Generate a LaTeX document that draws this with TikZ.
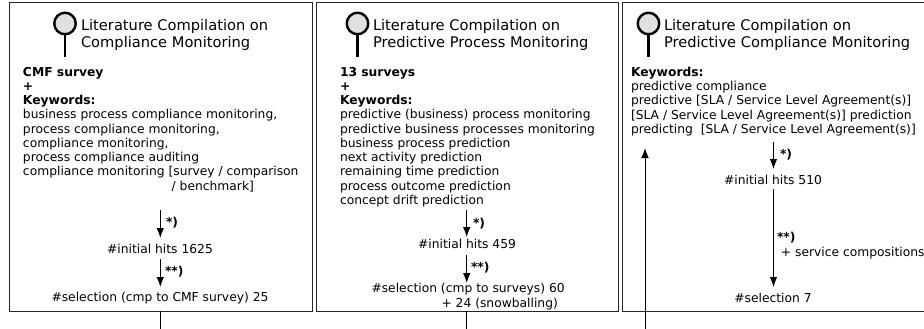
\documentclass[tikz,border=0pt]{standalone}
\usepackage{fontspec}
\setmainfont{DejaVu Sans}
\usetikzlibrary{arrows.meta}
\tikzset{
  x=1pt,y=-1pt,
  panel/.style={draw=black!85,line width=1pt},
  txt/.style={inner sep=0pt,outer sep=0pt,align=left,font=\fontsize{12.3}{14.25}\selectfont},
  head/.style={inner sep=0pt,outer sep=0pt,align=left,font=\fontsize{14.65}{17}\selectfont},
  lens/.style={draw=black,line width=2.4pt,fill=black!12},
  grip/.style={draw=black,line width=2.4pt},
  flow/.style={draw=black,line width=1pt,-{Latex[length=10pt,width=7.5pt]}},
  link/.style={draw=black,line width=1pt},
}
\begin{document}
\begin{tikzpicture}
\useasboundingbox (0,0) rectangle (924,329);
% panels
\node[panel,minimum width=303pt,minimum height=308pt,inner sep=0pt,anchor=north west] (p1) at (9,2.5) {};
\node[panel,minimum width=302.5pt,minimum height=308pt,inner sep=0pt,anchor=north west] (p2) at (315.5,2.5) {};
\node[panel,minimum width=301.5pt,minimum height=308pt,inner sep=0pt,anchor=north west] (p3) at (622,2.5) {};
% magnifiers
\foreach \n/\x in {a/65,b/357.5,c/648.5}{
  \draw[grip] (\x,30) -- (\x,57);
  \node[lens,circle,minimum size=21.5pt,inner sep=0pt] (m\n) at (\x,23.5) {};
}
% headings
\node[head,anchor=west] (h1) at (81,34.5) {Literature Compilation on\\Compliance Monitoring};
\node[head,anchor=west] (h2) at (373,34.5) {Literature Compilation on\\Predictive Process Monitoring};
\node[head,anchor=west] (h3) at (664,34.5) {Literature Compilation on\\Predictive Compliance Monitoring};
% keyword blocks
\node[txt,anchor=north west] (k1) at (23,67) {\textbf{CMF survey}\\\textbf{+}\\\textbf{Keywords:}\\business process compliance monitoring,\\process compliance monitoring,\\compliance monitoring,\\process compliance auditing\\compliance monitoring [survey / comparison\\\hspace*{148.7pt}/ benchmark]};
\node[txt,anchor=north west] (k2) at (340,67) {\textbf{13 surveys}\\\textbf{+}\\\textbf{Keywords:}\\predictive (business) process monitoring\\predictive business processes monitoring\\business process prediction\\next activity prediction\\remaining time prediction\\process outcome prediction\\concept drift prediction};
\node[txt,anchor=north west] (k3) at (631,67) {\textbf{Keywords:}\\predictive compliance\\predictive [SLA / Service Level Agreement(s)]\\{[SLA / Service Level Agreement(s)] prediction}\\predicting\ \ [SLA / Service Level Agreement(s)]};
% counts
\node[txt] (i1) at (160,248.5) {\#initial hits 1625};
\node[txt] (s1) at (160,298) {\#selection (cmp to CMF survey) 25};
\node[txt] (i2) at (467,244) {\#initial hits 459};
\node[txt,anchor=north west] (s2) at (371.5,283.5) {\#selection (cmp to surveys) 60\\\hspace*{70pt}+ 24 (snowballing)};
\node[txt] (i3) at (773,180) {\#initial hits 510};
\node[txt] (s3) at (773,298) {\#selection 7};
% star labels
\node[txt,anchor=west] (l1) at (166,223) {\textbf{*)}};
\node[txt,anchor=west] (l2) at (165,272) {\textbf{**)}};
\node[txt,anchor=west] (l3) at (473,224) {\textbf{*)}};
\node[txt,anchor=west] (l4) at (471,268) {\textbf{**)}};
\node[txt,anchor=west] (l5) at (780,155) {\textbf{*)}};
\node[txt,anchor=north west] (l6) at (777,232.5) {\textbf{**)}\\\ + service compositions};
% flow arrows
\coordinate (a1s) at (160.3,210); \coordinate (a1e) at (160.3,238);
\coordinate (a2s) at (160.3,259); \coordinate (a2e) at (160.3,287);
\coordinate (b1s) at (466.7,210); \coordinate (b1e) at (466.7,237);
\coordinate (b2s) at (466.7,255); \coordinate (b2e) at (466.7,283);
\coordinate (c1s) at (773.5,142); \coordinate (c1e) at (773.5,169);
\coordinate (c2s) at (773.5,189); \coordinate (c2e) at (773.5,287);
\draw[flow] (a1s) -- (a1e);
\draw[flow] (a2s) -- (a2e);
\draw[flow] (b1s) -- (b1e);
\draw[flow] (b2s) -- (b2e);
\draw[flow] (c1s) -- (c1e);
\draw[flow] (c2s) -- (c2e);
% stubs
\coordinate (t1) at (160.3,310.5); \coordinate (e1) at (160.3,329);
\coordinate (t2) at (466.7,310.5); \coordinate (e2) at (466.7,329);
\coordinate (t3) at (645,329); \coordinate (e3) at (645,148);
\draw[link] (t1) -- (e1);
\draw[link] (t2) -- (e2);
\draw[flow] (t3) -- (e3);
\end{tikzpicture}
\end{document}
